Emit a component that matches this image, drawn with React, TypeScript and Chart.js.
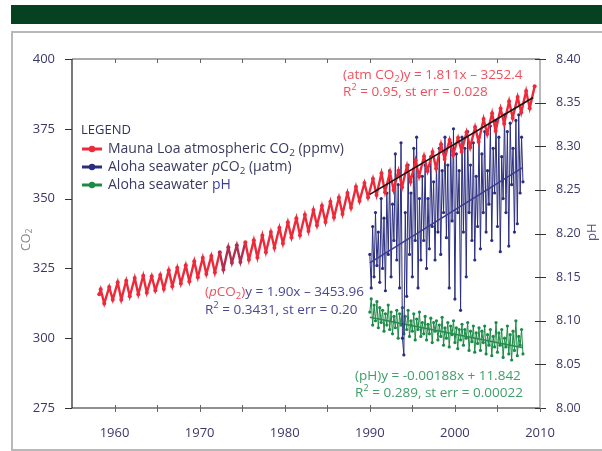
import React, { useEffect, useRef } from "react";
import { Chart, registerables } from "chart.js";
Chart.register(...registerables);

// ---------- data ----------
const mlYears = [1958,1959,1960,1961,1962,1963,1964,1965,1966,1967,1968,1969,1970,1971,1972,1973,1974,1975,1976,1977,1978,1979,1980,1981,1982,1983,1984,1985,1986,1987,1988,1989,1990,1991,1992,1993,1994,1995,1996,1997,1998,1999,2000,2001,2002,2003,2004,2005,2006,2007,2008,2009];
const mlFirst = [1958.2, 315.7];
const mlPeak = [317.5,318.3,320.0,320.6,321.6,322.4,322.2,322.6,324.3,325.2,326.1,327.6,328.8,329.4,330.8,332.6,333.3,334.4,335.1,336.8,338.0,339.6,341.5,343.0,344.2,345.9,347.4,348.9,350.4,352.0,354.2,355.6,357.1,359.1,359.5,360.0,361.8,363.7,365.2,366.7,369.5,371.0,371.8,373.8,375.6,378.5,380.6,382.3,384.9,386.4,388.5,390.2];
const mlTrough = [312.4,313.8,313.8,315.0,315.7,316.3,317.1,317.6,318.6,319.6,320.3,321.8,323.0,323.5,324.6,327.0,327.3,328.1,328.9,330.8,332.4,333.9,336.1,336.9,338.4,340.4,341.6,343.2,344.5,346.7,349.1,350.4,351.3,352.3,353.1,354.1,356.0,357.9,359.9,360.8,364.2,365.6,366.8,368.3,370.4,373.1,374.2,376.8,378.9,380.8,382.4];

const alohaStart = 1990.0;
const alohaStep = 1 / 6;
const pco2Values = [
  330,318,340,322,345,326,
  338,320,350,325,343,317,
  352,330,360,322,348,335,
  366,328,355,318,370,300,
  294,345,315,362,330,352,
  322,368,335,372,318,350,
  328,358,335,362,325,350,
  332,365,340,356,328,362,
  338,368,330,360,345,372,
  336,362,318,370,342,375,
  314,366,345,360,310,372,
  338,368,322,374,345,362,
  335,370,328,358,340,372,
  332,366,345,374,338,360,
  348,376,335,368,352,378,
  340,372,331,365,350,380,
  345,374,333,377,355,368,
  338,378,341,380,352,372,
  356
];
const phValues = [
  8.110,8.125,8.095,8.118,8.100,8.122,
  8.092,8.115,8.098,8.112,8.088,8.108,
  8.095,8.118,8.090,8.110,8.085,8.105,
  8.092,8.112,8.080,8.108,8.095,8.115,
  8.085,8.105,8.090,8.112,8.082,8.100,
  8.088,8.108,8.078,8.102,8.090,8.110,
  8.082,8.098,8.085,8.105,8.078,8.096,
  8.085,8.103,8.075,8.098,8.088,8.100,
  8.078,8.095,8.082,8.104,8.072,8.092,
  8.080,8.098,8.070,8.094,8.084,8.100,
  8.075,8.092,8.068,8.090,8.078,8.096,
  8.072,8.090,8.080,8.098,8.066,8.088,
  8.076,8.094,8.064,8.086,8.074,8.092,
  8.066,8.088,8.075,8.094,8.062,8.084,
  8.072,8.090,8.060,8.082,8.070,8.098,
  8.064,8.086,8.072,8.090,8.058,8.080,
  8.070,8.094,8.062,8.084,8.055,8.088,
  8.066,8.100,8.060,8.082,8.072,8.090,
  8.062
];

const atmTrendYears = [1990, 2009.2];
const atmTrendValues = [351.5, 386.2];
const pco2TrendYears = [1990, 2008];
const pco2TrendValues = [327.0, 361.2];
const phTrendYears = [1990, 2008];
const phTrendValues = [8.104, 8.069];

const yearTicks = [1960, 1970, 1980, 1990, 2000, 2010];
const yearMinorTicks = [1960, 1965, 1970, 1975, 1980, 1985, 1990, 1995, 2000, 2005];
const co2Ticks = [275, 300, 325, 350, 375, 400];
const phTicks = [8.0, 8.05, 8.1, 8.15, 8.2, 8.25, 8.3, 8.35, 8.4];

// ---------- styles ----------
const FONT = "'Open Sans', 'DejaVu Sans', sans-serif";
const RED = "#ee2a3a";
const RED_DARK = "#b32d4f";
const NAVY = "#2b2e7e";
const GREEN = "#1d8a47";
const RED_TXT = "#f0505c";
const NAVY_TXT = "#4a4892";
const GREEN_TXT = "#3f9e69";
const TICK_TXT = "#3b3868";
const LEG_TXT = "#3a3a5e";

type Run = { t: string; c: string; sub?: boolean; sup?: boolean; it?: boolean };

function drawRuns(ctx: CanvasRenderingContext2D, x: number, y: number, runs: Run[], size: number) {
  let cx = x;
  ctx.textBaseline = "middle";
  ctx.textAlign = "left";
  for (const r of runs) {
    const s = r.sub || r.sup ? size * 0.7 : size;
    ctx.font = `${r.it ? "italic " : ""}${s}px ${FONT}`;
    ctx.fillStyle = r.c;
    const dy = r.sub ? size * 0.3 : r.sup ? -size * 0.35 : 0;
    ctx.fillText(r.t, cx, y + dy);
    cx += ctx.measureText(r.t).width;
  }
  return cx - x;
}

const decorPlugin = {
  id: "decor",
  afterDatasetsDraw(chart: any) {
    const ctx: CanvasRenderingContext2D = chart.ctx;
    const { left, right, top, bottom } = chart.chartArea;
    const x = chart.scales.x;
    const y = chart.scales.y;
    const y2 = chart.scales.y2;
    ctx.save();
    // frame
    ctx.lineWidth = 1.2;
    ctx.strokeStyle = "#555";
    ctx.beginPath();
    ctx.moveTo(left, top); ctx.lineTo(right, top);
    ctx.stroke();
    ctx.strokeStyle = "#222";
    ctx.beginPath();
    ctx.moveTo(left, top); ctx.lineTo(left, bottom); ctx.lineTo(right, bottom);
    ctx.stroke();
    ctx.strokeStyle = "#8a8a8a";
    ctx.beginPath();
    ctx.moveTo(right, top); ctx.lineTo(right, bottom);
    ctx.stroke();
    // ticks
    ctx.strokeStyle = "#333";
    ctx.lineWidth = 1;
    for (const v of co2Ticks) {
      const py = Math.round(y.getPixelForValue(v)) + 0.5;
      ctx.beginPath(); ctx.moveTo(left - 7, py); ctx.lineTo(left, py); ctx.stroke();
    }
    for (const v of phTicks) {
      const py = Math.round(y2.getPixelForValue(v)) + 0.5;
      ctx.beginPath(); ctx.moveTo(right - 5, py); ctx.lineTo(right + 6, py); ctx.stroke();
    }
    ctx.strokeStyle = "#666";
    for (const v of yearMinorTicks) {
      const px = Math.round(x.getPixelForValue(v)) + 0.5;
      ctx.beginPath(); ctx.moveTo(px, bottom - 3); ctx.lineTo(px, bottom + 4); ctx.stroke();
      ctx.beginPath(); ctx.moveTo(px, top); ctx.lineTo(px, top + 4); ctx.stroke();
    }
    {
      const px = Math.round(x.getPixelForValue(2010)) + 0.5;
      ctx.beginPath(); ctx.moveTo(px, bottom); ctx.lineTo(px, bottom + 4); ctx.stroke();
    }

    // axis titles
    ctx.save();
    ctx.translate(26, 240);
    ctx.rotate(-Math.PI / 2);
    drawRuns(ctx, -11, 0, [{ t: "CO", c: "#8a8a8a" }, { t: "2", c: "#8a8a8a", sub: true }], 12.5);
    ctx.restore();
    ctx.save();
    ctx.translate(592, 233);
    ctx.rotate(-Math.PI / 2);
    drawRuns(ctx, -8, 0, [{ t: "pH", c: "#56557a" }], 13);
    ctx.restore();

    // legend
    const lx = 81;
    drawRuns(ctx, lx, 130, [{ t: "LEGEND", c: "#2e3558" }], 13);
    const rows: { c: string; runs: Run[] }[] = [
      { c: RED, runs: [{ t: "Mauna Loa atmospheric CO", c: LEG_TXT }, { t: "2", c: LEG_TXT, sub: true }, { t: " (ppmv)", c: LEG_TXT }] },
      { c: NAVY, runs: [{ t: "Aloha seawater ", c: LEG_TXT }, { t: "p", c: LEG_TXT, it: true }, { t: "CO", c: LEG_TXT }, { t: "2", c: LEG_TXT, sub: true }, { t: " (µatm)", c: LEG_TXT }] },
      { c: GREEN, runs: [{ t: "Aloha seawater ", c: LEG_TXT }, { t: "pH", c: "#3a3f9a" }] },
    ];
    rows.forEach((r, i) => {
      const ry = 149 + i * 18;
      ctx.strokeStyle = r.c;
      ctx.lineWidth = 3;
      ctx.beginPath(); ctx.moveTo(lx + 1, ry); ctx.lineTo(lx + 21, ry); ctx.stroke();
      ctx.fillStyle = r.c;
      ctx.beginPath(); ctx.arc(lx + 11, ry, 3.2, 0, Math.PI * 2); ctx.fill();
      drawRuns(ctx, lx + 27, ry, r.runs, 14);
    });

    // regression annotations
    const A = 13.5;
    drawRuns(ctx, 343, 75, [{ t: "(atm CO", c: RED_TXT }, { t: "2", c: RED_TXT, sub: true }, { t: ")y = 1.811x – 3252.4", c: RED_TXT }], A);
    drawRuns(ctx, 343, 92, [{ t: "R", c: RED_TXT }, { t: "2", c: RED_TXT, sup: true }, { t: " = 0.95, st err = 0.028", c: RED_TXT }], A);
    drawRuns(ctx, 205, 292, [{ t: "(", c: RED_TXT }, { t: "p", c: RED_TXT, it: true }, { t: "CO", c: RED_TXT }, { t: "2", c: RED_TXT, sub: true }, { t: ")", c: RED_TXT }, { t: "y = 1.90x – 3453.96", c: NAVY_TXT }], A);
    drawRuns(ctx, 205, 310, [{ t: "R", c: NAVY_TXT }, { t: "2", c: NAVY_TXT, sup: true }, { t: " = 0.3431, st err = 0.20", c: NAVY_TXT }], A);
    drawRuns(ctx, 355, 376, [{ t: "(pH)y = -0.00188x + 11.842", c: GREEN_TXT }], A);
    drawRuns(ctx, 355, 393, [{ t: "R", c: GREEN_TXT }, { t: "2", c: GREEN_TXT, sup: true }, { t: " = 0.289, st err = 0.00022", c: GREEN_TXT }], A);
    ctx.restore();
  },
};

function buildMaunaLoa() {
  const pts: { x: number; y: number }[] = [{ x: mlFirst[0], y: mlFirst[1] }];
  mlYears.forEach((yr, i) => {
    pts.push({ x: yr + 0.37, y: mlPeak[i] });
    if (i < mlTrough.length) pts.push({ x: yr + 0.79, y: mlTrough[i] });
  });
  return pts;
}

const isDark = (xv: number) => xv >= 1971.8 && xv <= 1975.2;

export default function App() {
  const ref = useRef<HTMLCanvasElement | null>(null);
  useEffect(() => {
    if (!ref.current) return;
    const tickFont = { family: FONT, size: 13 };
    const chart = new Chart(ref.current, {
      type: "line",
      data: {
        datasets: [
          {
            data: atmTrendYears.map((xv, i) => ({ x: xv, y: atmTrendValues[i] })),
            borderColor: "#151515", borderWidth: 1.6, pointRadius: 0, yAxisID: "y",
          },
          {
            data: buildMaunaLoa(),
            borderColor: RED, borderWidth: 2.4, pointRadius: 2, pointBorderWidth: 0,
            pointBackgroundColor: (c: any) => (c.raw && isDark(c.raw.x) ? RED_DARK : RED),
            segment: { borderColor: (c: any) => (isDark(c.p0.parsed.x) ? RED_DARK : undefined) },
            yAxisID: "y",
          },
          {
            data: pco2TrendYears.map((xv, i) => ({ x: xv, y: pco2TrendValues[i] })),
            borderColor: "#3b3b93", borderWidth: 1.6, pointRadius: 0, yAxisID: "y",
          },
          {
            data: pco2Values.map((v, i) => ({ x: alohaStart + i * alohaStep, y: v })),
            borderColor: NAVY, borderWidth: 1, pointRadius: 1.6, pointBorderWidth: 0,
            pointBackgroundColor: NAVY, yAxisID: "y",
          },
          {
            data: phTrendYears.map((xv, i) => ({ x: xv, y: phTrendValues[i] })),
            borderColor: "#2a8a50", borderWidth: 1.6, pointRadius: 0, yAxisID: "y2",
          },
          {
            data: phValues.map((v, i) => ({ x: alohaStart + i * alohaStep, y: v })),
            borderColor: GREEN, borderWidth: 1, pointRadius: 1.6, pointBorderWidth: 0,
            pointBackgroundColor: GREEN, yAxisID: "y2",
          },
        ],
      },
      options: {
        responsive: false,
        animation: false,
        devicePixelRatio: 1,
        layout: { padding: { top: 59, left: 0, right: 0, bottom: 0 } },
        plugins: { legend: { display: false }, tooltip: { enabled: false } },
        scales: {
          x: {
            type: "linear", min: 1955, max: 2010,
            afterBuildTicks: (s: any) => { s.ticks = yearTicks.map((v) => ({ value: v })); },
            afterFit: (s: any) => { s.height = 43; },
            grid: { display: false }, border: { display: false },
            ticks: { padding: 9, color: TICK_TXT, font: tickFont, maxRotation: 0, autoSkip: false, callback: (v: any) => String(v) },
          },
          y: {
            position: "left", min: 275, max: 400,
            afterBuildTicks: (s: any) => { s.ticks = co2Ticks.map((v) => ({ value: v })); },
            afterFit: (s: any) => { s.width = 72; },
            grid: { display: false }, border: { display: false },
            ticks: { padding: 9, color: TICK_TXT, font: tickFont, callback: (v: any) => String(v) },
          },
          y2: {
            position: "right", min: 8.0, max: 8.4,
            afterBuildTicks: (s: any) => { s.ticks = phTicks.map((v) => ({ value: v })); },
            afterFit: (s: any) => { s.width = 62; },
            grid: { display: false }, border: { display: false },
            ticks: { padding: 8, color: TICK_TXT, font: { family: FONT, size: 12.5 }, callback: (v: any) => Number(v).toFixed(2) },
          },
        },
      } as any,
      plugins: [decorPlugin],
    });
    return () => chart.destroy();
  }, []);

  return (
    <div style={{ position: "fixed", left: 0, top: 0, width: 602, height: 451, background: "#fff", overflow: "hidden" }}>
      <div style={{ position: "absolute", left: 11, top: 5, width: 600, height: 19, background: "#064221" }} />
      <div style={{ position: "absolute", left: 11, top: 31, width: 610, height: 416, border: "2px solid #b8b8b8" }} />
      <canvas ref={ref} width={602} height={451} style={{ position: "absolute", left: 0, top: 0, width: 602, height: 451 }} />
    </div>
  );
}
